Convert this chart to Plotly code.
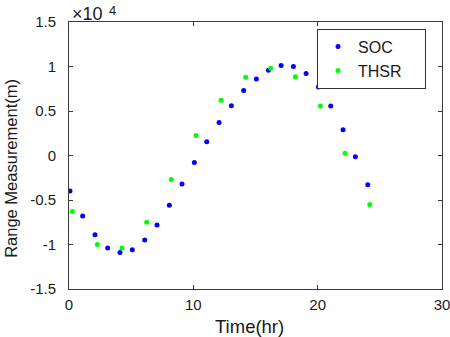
import plotly.graph_objects as go

# Data (range in metres)
soc_time = [0.08, 1.10, 2.09, 3.11, 4.10, 5.09, 6.09, 7.08, 8.07, 9.09, 10.08, 11.08,
            12.07, 13.06, 14.05, 15.07, 16.04, 17.06, 18.05, 19.07, 20.06, 21.05,
            22.04, 23.03, 24.03]
soc_range = [-4000, -6800, -8900, -10400, -10900, -10600, -9500, -7800, -5600, -3200,
             -800, 1550, 3700, 5600, 7300, 8600, 9570, 10100, 10000, 9200, 7700,
             5560, 2900, -130, -3300]
thsr_time = [0.27, 2.28, 4.26, 6.25, 8.23, 10.22, 12.23, 14.21, 16.23, 18.21, 20.22,
             22.20, 24.19]
thsr_range = [-6300, -10000, -10400, -7500, -2700, 2260, 6200, 8800, 9800, 8850, 5560,
              240, -5500]
series_names = ["SOC", "THSR"]

x_ticks = [0, 10, 20, 30]
y_ticks = [-15000, -10000, -5000, 0, 5000, 10000, 15000]
y_ticktext = ["-1.5", "-1", "-0.5", "0", "0.5", "1", "1.5"]

FONT = "Liberation Sans, Arial, sans-serif"
AXC = "#3a3a3a"
TXT = "#1a1a1a"
PAD = "\u00a0" * 4  # widen legend box

fig = go.Figure()
fig.add_trace(go.Scatter(x=soc_time, y=soc_range, mode="markers", name=series_names[0] + PAD,
                         marker=dict(color="#0000FF", size=5)))
fig.add_trace(go.Scatter(x=thsr_time, y=thsr_range, mode="markers", name=series_names[1] + PAD,
                         marker=dict(color="#00FF00", size=5)))

axis_common = dict(showgrid=False, zeroline=False, showline=True, linecolor=AXC,
                   linewidth=1, ticks="inside", ticklen=4, tickcolor=AXC,
                   mirror="ticks", automargin=False, ticklabeloverflow="allow",
                   tickfont=dict(family=FONT, size=15, color=TXT))

fig.update_xaxes(range=[0, 30], tickvals=x_ticks, ticklabelstandoff=2, **axis_common)
fig.update_yaxes(range=[-15000, 15000], tickvals=y_ticks, ticktext=y_ticktext,
                 ticklabelstandoff=9, **axis_common)

fig.add_annotation(text="Time(hr)", xref="paper", yref="paper", x=0.485, y=0,
                   yshift=-37, xanchor="center", yanchor="middle", showarrow=False,
                   font=dict(family=FONT, size=18.5, color=TXT))
fig.add_annotation(text="Range Measurement(m)", textangle=-90, xref="paper", yref="paper",
                   x=0, y=0.45, xshift=-58, xanchor="center", yanchor="middle",
                   showarrow=False, font=dict(family=FONT, size=16.5, color=TXT))
fig.add_annotation(text="×10", xref="paper", yref="paper", x=0, y=1,
                   xanchor="left", yanchor="bottom", xshift=1, yshift=-4,
                   showarrow=False, font=dict(family=FONT, size=18, color=TXT))
fig.add_annotation(text="4", xref="paper", yref="paper", x=0, y=1,
                   xanchor="left", yanchor="bottom", xshift=38, yshift=2,
                   showarrow=False, font=dict(family=FONT, size=13, color=TXT))

fig.update_layout(
    width=450, height=337,
    margin=dict(l=69, r=8, t=22, b=48),
    paper_bgcolor="white", plot_bgcolor="white",
    showlegend=True,
    legend=dict(x=0.665, y=0.975, xanchor="left", yanchor="top",
                bordercolor="#333333", borderwidth=1, bgcolor="white",
                font=dict(family=FONT, size=16, color=TXT),
                tracegroupgap=0, itemsizing="trace"),
)

fig.write_html("out.html")
